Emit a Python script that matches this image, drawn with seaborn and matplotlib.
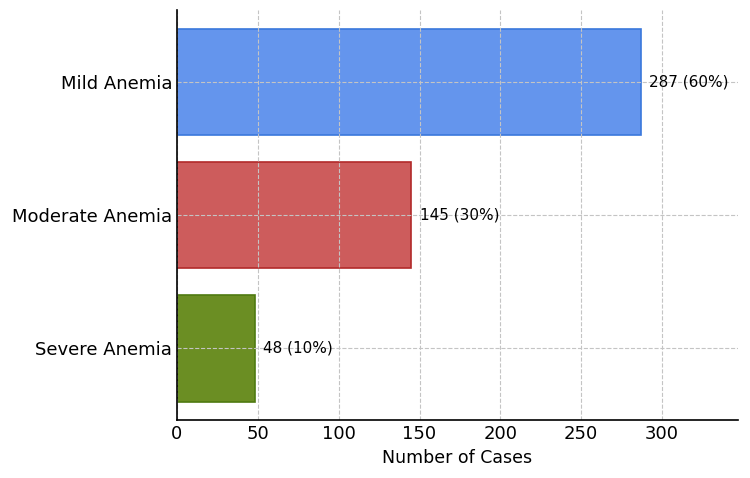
import matplotlib
matplotlib.use("Agg")
import matplotlib.pyplot as plt
import pandas as pd
import seaborn as sns

categories = ["Mild Anemia", "Moderate Anemia", "Severe Anemia"]
cases = [287, 145, 48]
bar_colors = ["#6495ed", "#cd5c5c", "#6b8e23"]
edge_colors = ["#3a78dc", "#b22a2a", "#4f7a10"]

sns.set_style("white")
plt.rcParams["font.family"] = ["DejaVu Sans"]
plt.rcParams["text.color"] = "black"
plt.rcParams["axes.labelcolor"] = "black"
plt.rcParams["xtick.color"] = "black"
plt.rcParams["ytick.color"] = "black"

frame = pd.DataFrame({"category": categories, "cases": cases})
total = sum(cases)

fig, ax = plt.subplots(figsize=(7.5, 4.78), dpi=100)
sns.barplot(
    data=frame, x="cases", y="category", hue="category",
    palette=bar_colors, orient="h", width=0.8, saturation=1,
    legend=False, ax=ax,
)
for patch, ec in zip(ax.patches, edge_colors):
    patch.set_edgecolor(ec)
    patch.set_linewidth(1.2)

for i, value in enumerate(cases):
    ax.text(value + 5, i, f"{value} ({value / total * 100:.0f}%)",
            va="center", ha="left", fontsize=11, color="black")

ax.set_xlim(0, 347)
ax.set_ylim(2.54, -0.54)
ax.set_xlabel("Number of Cases", fontsize=12.5)
ax.set_ylabel("")
ax.tick_params(axis="both", labelsize=13, direction="in", length=4)
ax.grid(True, linestyle="--", color="#c4c4c4", linewidth=0.8)
ax.set_axisbelow(False)
sns.despine(ax=ax)
for side in ["left", "bottom"]:
    ax.spines[side].set_color("black")
    ax.spines[side].set_linewidth(1.2)
    ax.spines[side].set_zorder(5)

fig.subplots_adjust(left=0.236, right=0.984, top=0.979, bottom=0.121)
fig.savefig("out.png", dpi=100)
